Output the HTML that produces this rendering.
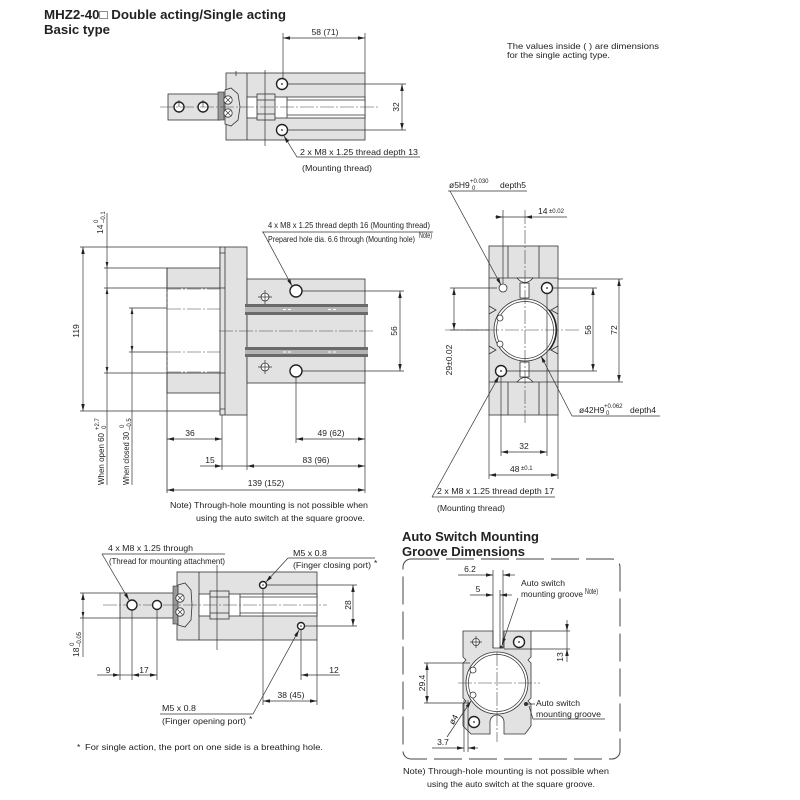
<!DOCTYPE html>
<html><head><meta charset="utf-8"><style>
html,body{margin:0;padding:0;background:#fff;}
svg{display:block;font-family:"Liberation Sans",Arial,sans-serif;}
text{fill:#222;font-size:8.5px;}
.l{stroke:#333;stroke-width:0.8;fill:none;}
.t{stroke:#333;stroke-width:0.7;fill:none;}
.f{fill:#e2e2e2;stroke:#333;stroke-width:0.8;}
.w{fill:#fff;stroke:#333;stroke-width:0.8;}
.h{fill:#fff;stroke:#222;stroke-width:1.4;}
.c{stroke:#444;stroke-width:0.6;fill:none;stroke-dasharray:14 2 2 2;}
.b{font-weight:bold;font-size:13px;}
.s{font-size:6px;}
.m{text-anchor:middle;}
</style></head><body>
<svg width="800" height="800" viewBox="0 0 800 800">
<defs>
<marker id="a" viewBox="0 0 10 10" refX="10" refY="5" markerWidth="7" markerHeight="7" markerUnits="userSpaceOnUse" orient="auto-start-reverse"><path d="M0,2.5L10,5L0,7.5z" fill="#222"/></marker>
</defs>

<!-- Titles -->
<text class="b" x="44" y="19" textLength="242" lengthAdjust="spacingAndGlyphs">MHZ2-40□ Double acting/Single acting</text>
<text class="b" x="44" y="34" textLength="66" lengthAdjust="spacingAndGlyphs">Basic type</text>
<text x="507" y="49" font-size="8" textLength="152" lengthAdjust="spacingAndGlyphs">The values inside (  ) are dimensions</text>
<text x="507" y="58" font-size="8" textLength="103" lengthAdjust="spacingAndGlyphs">for the single acting type.</text>

<!-- ===== TOP VIEW ===== -->
<rect class="f" x="168" y="94" width="52" height="26"/>
<rect class="f" x="226" y="73" width="139" height="67"/>
<path class="l" d="M247,73V140 M236,71V76"/>
<rect class="w" x="247" y="97" width="118" height="21"/>
<path class="l" d="M287,97V118 M287,100H365 M287,115H365"/>
<rect class="f" x="257" y="94" width="18" height="26"/>
<path class="l" d="M257,100H275 M257,114H275"/>
<rect x="218" y="92" width="6" height="28" fill="#9a9a9a" stroke="#333" stroke-width="0.6"/>
<path class="f" d="M225,90L231,88L238,94L240,107L238,120L231,126L225,124Z"/>
<circle class="w" cx="228" cy="100" r="4.2"/><path class="t" d="M225.5,97.5l5,5m0,-5l-5,5"/>
<circle class="w" cx="228" cy="113" r="4.2"/><path class="t" d="M225.5,110.5l5,5m0,-5l-5,5"/>
<circle class="h" cx="179" cy="107" r="5"/>
<circle class="h" cx="203" cy="107" r="5"/>
<path class="t" d="M179,100V107 M203,100V107"/>
<circle class="h" cx="282" cy="84" r="5.5"/><circle cx="282" cy="84" r="0.9" fill="#222"/>
<circle class="h" cx="282" cy="130" r="5.5"/><circle cx="282" cy="130" r="0.9" fill="#222"/>
<path class="c" d="M160,107H378"/>
<path class="t" d="M265,70V146"/>
<!-- dims -->
<path class="t" d="M283,33V78 M365,33V73"/>
<path class="t" d="M283,38H365" marker-start="url(#a)" marker-end="url(#a)"/>
<text class="m" x="325" y="35">58 (71)</text>
<path class="t" d="M288,84H406 M288,130H406"/>
<path class="t" d="M402,84V130" marker-start="url(#a)" marker-end="url(#a)"/>
<g transform="translate(399,107) rotate(-90)"><text class="m" x="0" y="0">32</text></g>
<path class="t" d="M284,136L297,157H420" marker-start="url(#a)"/>
<text x="300" y="155" textLength="118" lengthAdjust="spacingAndGlyphs">2 x M8 x 1.25 thread depth 13</text>
<text x="302" y="171" textLength="70" lengthAdjust="spacingAndGlyphs">(Mounting thread)</text>

<!-- ===== SIDE VIEW ===== -->
<path class="l" d="M80,247H222 M220,247V268"/>
<rect class="f" x="167" y="268" width="53" height="20"/>
<rect class="f" x="167" y="373" width="53" height="20"/>
<path class="c" d="M167,289H220 M167,309H220 M167,352H220 M167,372H220"/>
<path class="t" stroke-dasharray="3 2" d="M167,289V309 M167,352V372"/>
<path class="l" d="M220,393V415 M80,411H222 M167,268V493"/>
<rect class="f" x="220" y="247" width="27" height="168"/>
<path class="l" d="M225,247V415 M220,253H225 M220,409H225 M220,288H225 M220,373H225"/>
<rect class="f" x="247" y="279" width="118" height="104"/>
<rect x="245" y="304" width="123" height="3" fill="#6a6a6a"/>
<rect x="245" y="307" width="123" height="5" fill="#b5b5b5"/>
<rect x="245" y="312" width="123" height="3" fill="#6a6a6a"/>
<rect x="245" y="347" width="123" height="3" fill="#6a6a6a"/>
<rect x="245" y="350" width="123" height="4" fill="#b5b5b5"/>
<rect x="245" y="354" width="123" height="3" fill="#6a6a6a"/>
<path stroke="#fff" stroke-width="1" d="M283,309.5h3m2,0h3 M328,309.5h3m2,0h3 M283,352h3m2,0h3 M328,352h3m2,0h3"/>
<path class="c" d="M219,331H375"/>
<circle class="h" cx="296" cy="291" r="6"/>
<circle class="h" cx="296" cy="371" r="6"/>
<circle class="w" cx="265" cy="297" r="4"/><path class="t" d="M258,297H272 M265,290V304"/>
<circle class="w" cx="265" cy="367" r="4"/><path class="t" d="M258,367H272 M265,360V374"/>
<!-- side dims -->
<path class="t" d="M302,291H404 M302,371H404"/>
<path class="t" d="M400,291V371" marker-start="url(#a)" marker-end="url(#a)"/>
<g transform="translate(397,331) rotate(-90)"><text class="m" x="0" y="0">56</text></g>
<path class="t" d="M83,247V411" marker-start="url(#a)" marker-end="url(#a)"/>
<g transform="translate(79,331) rotate(-90)"><text class="m" x="0" y="0">119</text></g>
<path class="t" d="M104,268H167 M104,288H167 M104,373H167 M129,308H167 M129,352H167"/>
<path class="t" d="M107,213V485 M132,308V485"/>
<path fill="#222" d="M107,268l-1.4,-6h2.8z M107,288l-1.4,6h2.8z M107,373l-1.4,-6h2.8z M132,308l-1.4,6h2.8z M132,352l-1.4,-6h2.8z"/>
<g transform="translate(103,234) rotate(-90)"><text x="0" y="0">14</text><text class="s" x="11" y="-5">0</text><text class="s" x="11" y="2">–0.1</text></g>
<g transform="translate(104,485) rotate(-90)"><text x="0" y="0" font-size="8" textLength="52" lengthAdjust="spacingAndGlyphs">When open 60</text><text class="s" x="55" y="-5">+2.7</text><text class="s" x="56" y="2">0</text></g>
<g transform="translate(129,485) rotate(-90)"><text x="0" y="0" font-size="8" textLength="53" lengthAdjust="spacingAndGlyphs">When closed 30</text><text class="s" x="57" y="-5">0</text><text class="s" x="55" y="2">–0.5</text></g>
<path class="t" d="M222,415V470 M247,415V470 M296,377V443 M365,383V493"/>
<path class="t" d="M167,439H222" marker-start="url(#a)" marker-end="url(#a)"/>
<path class="t" d="M296,439H365" marker-start="url(#a)" marker-end="url(#a)"/>
<text class="m" x="190" y="436">36</text>
<text class="m" x="331" y="436">49 (62)</text>
<path class="t" d="M200,466H222" marker-end="url(#a)"/>
<path class="t" d="M222,466H247"/>
<path class="t" d="M247,466H365" marker-start="url(#a)" marker-end="url(#a)"/>
<text class="m" x="210" y="463">15</text>
<text class="m" x="316" y="463">83 (96)</text>
<path class="t" d="M167,490H365" marker-start="url(#a)" marker-end="url(#a)"/>
<text class="m" x="266" y="486">139 (152)</text>
<text x="170" y="508" textLength="198" lengthAdjust="spacingAndGlyphs">Note) Through-hole mounting is not possible when</text>
<text x="196" y="521" textLength="169" lengthAdjust="spacingAndGlyphs">using the auto switch at the square groove.</text>
<text x="268" y="228" font-size="7.5" textLength="162" lengthAdjust="spacingAndGlyphs">4 x M8 x 1.25 thread depth 16 (Mounting thread)</text>
<path class="t" d="M262,232H433"/>
<path class="t" d="M263,232L292,286" marker-end="url(#a)"/>
<text x="268" y="242" font-size="7.5" textLength="147" lengthAdjust="spacingAndGlyphs">Prepared hole dia. 6.6 through (Mounting hole)</text>
<text x="419" y="238" font-size="4.5" textLength="13" lengthAdjust="spacingAndGlyphs">Note)</text>

<!-- ===== END VIEW ===== -->
<rect class="f" x="489" y="246" width="69" height="169"/>
<path class="l" d="M489,278H558 M489,382H558 M508,246V278 M539,246V278 M508,382V415 M539,382V415"/>
<path class="w" d="M517,278Q525,287 533,278Z"/>
<rect class="w" x="520" y="283" width="9" height="15"/>
<path class="w" d="M517,382Q525,373 533,382Z"/>
<rect class="w" x="520" y="362" width="9" height="15"/>
<path class="l" d="M489,306l7,4l-7,4 M489,346l7,4l-7,4 M558,306l-7,4l7,4 M558,346l-7,4l7,4"/>
<circle class="w" cx="525" cy="330" r="31"/>
<circle class="t" cx="525" cy="330" r="28.5"/>
<path stroke="#222" stroke-width="1.6" fill="none" d="M549,310A31,31 0 0 1 549,350"/>
<circle class="w" cx="500" cy="318" r="3"/>
<circle class="w" cx="500" cy="344" r="3"/>
<circle class="w" cx="503" cy="288" r="4"/>
<circle class="h" cx="547" cy="288" r="5.5"/><circle cx="547" cy="288" r="0.9" fill="#222"/>
<circle class="h" cx="501" cy="371" r="5.5"/><circle cx="501" cy="371" r="0.9" fill="#222"/>
<path class="c" d="M525,210V423 M445,330H580"/>
<!-- end dims -->
<path class="t" d="M503,210V284"/>
<path class="t" d="M495,217H503" marker-end="url(#a)"/>
<path class="t" d="M503,217H525"/>
<path class="t" d="M525,217H567" marker-start="url(#a)"/>
<text x="538" y="214">14</text><text class="s" x="549" y="213">±0.02</text>
<text x="449" y="188" font-size="8">ø5H9</text><text class="s" x="470" y="183">+0.030</text><text class="s" x="472" y="190">0</text><text x="500" y="188" font-size="8">depth5</text>
<path class="t" d="M448,191H527"/>
<path class="t" d="M450,191L501,285" marker-end="url(#a)"/>
<path class="t" d="M553,288H597 M507,371H597"/>
<path class="t" d="M593,288V371" marker-start="url(#a)" marker-end="url(#a)"/>
<g transform="translate(591,330) rotate(-90)"><text class="m" x="0" y="0">56</text></g>
<path class="t" d="M558,279H623 M558,382H623"/>
<path class="t" d="M619,279V382" marker-start="url(#a)" marker-end="url(#a)"/>
<g transform="translate(617,330) rotate(-90)"><text class="m" x="0" y="0">72</text></g>
<path class="t" d="M450,288H497 M450,330H489"/>
<path class="t" d="M454,288V330" marker-start="url(#a)" marker-end="url(#a)"/>
<g transform="translate(452,360) rotate(-90)"><text class="m" x="0" y="0" font-size="8">29±0.02</text></g>
<text x="579" y="413" font-size="8">ø42H9</text><text class="s" x="604" y="408">+0.062</text><text class="s" x="606" y="415">0</text><text x="630" y="413" font-size="8">depth4</text>
<path class="t" d="M572,416H660"/>
<path class="t" d="M572,416L541,356" marker-end="url(#a)"/>
<path class="t" d="M501,377V456 M547,294V456 M489,415V479 M558,415V479"/>
<path class="t" d="M501,452H547" marker-start="url(#a)" marker-end="url(#a)"/>
<text class="m" x="524" y="449">32</text>
<path class="t" d="M489,475H558" marker-start="url(#a)" marker-end="url(#a)"/>
<text x="510" y="472">48</text><text class="s" x="521" y="470">±0.1</text>
<text x="437" y="494" textLength="117" lengthAdjust="spacingAndGlyphs">2 x M8 x 1.25 thread depth 17</text>
<path class="t" d="M432,497H555"/>
<path class="t" d="M432,497L499,376" marker-end="url(#a)"/>
<text x="437" y="511" textLength="68" lengthAdjust="spacingAndGlyphs">(Mounting thread)</text>

<!-- ===== BOTTOM LEFT VIEW ===== -->
<rect class="f" x="120" y="593" width="56" height="25"/>
<rect class="f" x="177" y="572" width="140" height="68"/>
<path class="l" d="M199,572V640"/>
<rect class="w" x="199" y="594" width="118" height="22"/>
<path class="l" d="M240,594V616 M240,597H317 M240,613H317"/>
<rect class="f" x="210" y="591" width="19" height="28"/>
<path class="l" d="M210,597H229 M210,613H229"/>
<rect x="173" y="586" width="6" height="38" fill="#9a9a9a" stroke="#333" stroke-width="0.6"/>
<path class="f" d="M178,585L185,583L191,590L192,605L191,620L185,627L178,625Z"/>
<circle class="w" cx="180" cy="598" r="4.2"/><path class="t" d="M177.5,595.5l5,5m0,-5l-5,5"/>
<circle class="w" cx="180" cy="612" r="4.2"/><path class="t" d="M177.5,609.5l5,5m0,-5l-5,5"/>
<path class="c" d="M103,605H327"/>
<path class="t" d="M217,565V650"/>
<circle class="h" cx="132" cy="605" r="5"/>
<circle class="h" cx="157" cy="605" r="4.5"/>
<circle class="h" cx="263" cy="585" r="3.5"/><circle cx="263" cy="585" r="0.8" fill="#222"/>
<circle class="h" cx="301" cy="626" r="3.5"/><circle cx="301" cy="626" r="0.8" fill="#222"/>
<!-- bl dims -->
<path class="t" d="M267,585H357 M305,626H357"/>
<path class="t" d="M353,585V626" marker-start="url(#a)" marker-end="url(#a)"/>
<g transform="translate(351,605) rotate(-90)"><text class="m" x="0" y="0">28</text></g>
<path class="t" d="M80,593H120 M80,618H120"/>
<path class="t" d="M83,593V657" marker-start="url(#a)"/>
<path fill="#222" d="M83,618l-1.4,-6h2.8z"/>
<g transform="translate(79,657) rotate(-90)"><text x="0" y="0">18</text><text class="s" x="11" y="-5">0</text><text class="s" x="10" y="2">–0.05</text></g>
<path class="t" d="M263,589V705 M301,630V680 M317,640V705 M120,618V680 M132,610V680 M157,610V680"/>
<path class="t" d="M97,675H120" marker-end="url(#a)"/>
<path class="t" d="M120,675H132"/>
<path class="t" d="M132,675H157" marker-start="url(#a)" marker-end="url(#a)"/>
<text class="m" x="108" y="673">9</text>
<text class="m" x="144" y="673">17</text>
<path class="t" d="M301,675H340" marker-start="url(#a)"/>
<text class="m" x="334" y="673">12</text>
<path class="t" d="M263,701H317" marker-start="url(#a)" marker-end="url(#a)"/>
<text class="m" x="291" y="698">38 (45)</text>
<text x="108" y="551" textLength="85" lengthAdjust="spacingAndGlyphs">4 x M8 x 1.25 through</text>
<path class="t" d="M102,554H225"/>
<path class="t" d="M102,554L129,600" marker-end="url(#a)"/>
<text x="109" y="564" textLength="116" lengthAdjust="spacingAndGlyphs">(Thread for mounting attachment)</text>
<text x="293" y="556" textLength="34" lengthAdjust="spacingAndGlyphs">M5 x 0.8</text>
<path class="t" d="M288,558H375"/>
<path class="t" d="M288,558L266,582" marker-end="url(#a)"/>
<text x="293" y="568" textLength="78" lengthAdjust="spacingAndGlyphs">(Finger closing port)</text><text x="374" y="566" fill="#888" font-size="7">*</text>
<text x="162" y="711" textLength="34" lengthAdjust="spacingAndGlyphs">M5 x 0.8</text>
<path class="t" d="M160,714H253"/>
<path class="t" d="M253,714L299,630" marker-end="url(#a)"/>
<text x="162" y="724" textLength="84" lengthAdjust="spacingAndGlyphs">(Finger opening port)</text><text x="249" y="722" fill="#888" font-size="7">*</text>
<text x="77" y="750" fill="#888" font-size="7">*</text>
<text x="85" y="750" textLength="238" lengthAdjust="spacingAndGlyphs">For single action, the port on one side is a breathing hole.</text>

<!-- ===== AUTO SWITCH ===== -->
<text class="b" x="402" y="541" textLength="137" lengthAdjust="spacingAndGlyphs">Auto Switch Mounting</text>
<text class="b" x="402" y="556" textLength="123" lengthAdjust="spacingAndGlyphs">Groove Dimensions</text>
<rect x="403" y="559" width="217" height="200" rx="8" fill="none" stroke="#444" stroke-width="1" stroke-dasharray="28 7"/>
<path class="f" d="M463,631H493V648H504V631H531V657l-3,3l3,3V698l-3,3l3,3V726l-6,8H504V722a7,7 0 0 0 -14,0V734H471l-8,-8V704l3,-3l-3,-3V663l3,-3l-3,-3Z"/>
<circle class="w" cx="497" cy="683" r="31"/>
<circle class="t" cx="497" cy="683" r="28.5"/>
<circle class="w" cx="473" cy="670" r="3"/>
<circle class="w" cx="473" cy="695" r="3"/>
<circle class="w" cx="476" cy="642" r="3.5"/><path class="t" d="M470,642H482 M476,636V648"/>
<circle class="h" cx="519" cy="642" r="5.5"/><circle cx="519" cy="642" r="0.9" fill="#222"/>
<circle class="h" cx="474" cy="722" r="5.5"/><circle cx="474" cy="722" r="0.9" fill="#222"/>
<circle cx="526" cy="704" r="2" fill="#333"/>
<circle cx="501" cy="647" r="1.5" fill="#333"/>
<path class="c" d="M458,683H540 M497,652V742"/>
<path class="t" d="M493,570V648 M500,590V648 M503,570V648"/>
<path class="t" d="M458,575H493" marker-end="url(#a)"/>
<path class="t" d="M503,575H515" marker-start="url(#a)"/>
<text class="m" x="470" y="572">6.2</text>
<path class="t" d="M470,595H493" marker-end="url(#a)"/>
<path class="t" d="M500,595H512" marker-start="url(#a)"/>
<text class="m" x="478" y="592">5</text>
<text x="521" y="586" font-size="8" textLength="44" lengthAdjust="spacingAndGlyphs">Auto switch</text>
<text x="521" y="597" font-size="8" textLength="62" lengthAdjust="spacingAndGlyphs">mounting groove</text>
<text x="585" y="594" font-size="4.5" textLength="13" lengthAdjust="spacingAndGlyphs">Note)</text>
<path class="t" d="M518,598L502,645" marker-end="url(#a)"/>
<path class="t" d="M531,631H570 M504,649H570"/>
<path class="t" d="M567,620V631" marker-end="url(#a)"/>
<path class="t" d="M567,662V649" marker-end="url(#a)"/>
<path class="t" d="M567,631V649"/>
<g transform="translate(563,657) rotate(-90)"><text class="m" x="0" y="0">13</text></g>
<path class="t" d="M424,663H470 M424,703H470"/>
<path class="t" d="M427,663V703" marker-start="url(#a)" marker-end="url(#a)"/>
<g transform="translate(425,683) rotate(-90)"><text class="m" x="0" y="0">29.4</text></g>
<path class="t" d="M447,737L471,701" marker-end="url(#a)"/>
<g transform="translate(456,721) rotate(-60)"><text class="m" x="0" y="0">ø4</text></g>
<path class="t" d="M464,700V752 M468,700V752"/>
<path class="t" d="M432,748H464" marker-end="url(#a)"/>
<path class="t" d="M468,748H478" marker-start="url(#a)"/>
<text class="m" x="443" y="745">3.7</text>
<path class="t" d="M528,704H535 M529,706L533,719H605"/>
<text x="536" y="706" font-size="8" textLength="44" lengthAdjust="spacingAndGlyphs">Auto switch</text>
<text x="536" y="717" font-size="8" textLength="65" lengthAdjust="spacingAndGlyphs">mounting groove</text>
<text x="403" y="774" font-size="8" textLength="206" lengthAdjust="spacingAndGlyphs">Note) Through-hole mounting is not possible when</text>
<text x="427" y="787" font-size="8" textLength="168" lengthAdjust="spacingAndGlyphs">using the auto switch at the square groove.</text>
</svg>
</body></html>
